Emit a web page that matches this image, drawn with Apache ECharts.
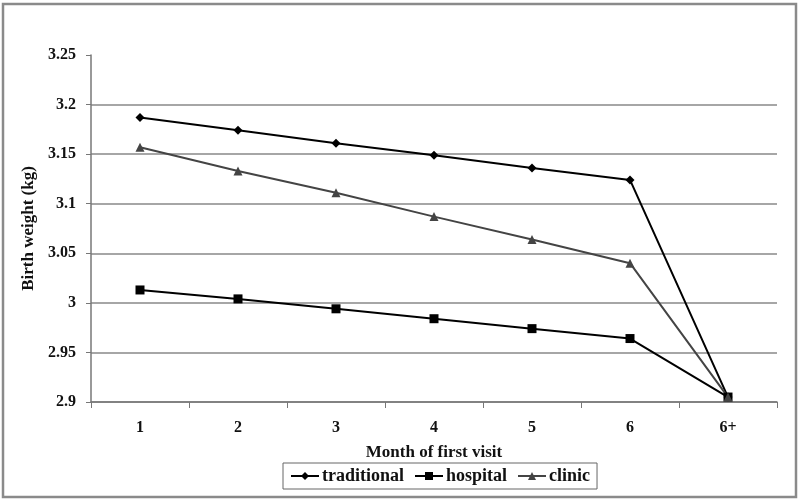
<!DOCTYPE html>
<html><head><meta charset="utf-8">
<script src="https://cdn.jsdelivr.net/npm/echarts@6/dist/echarts.min.js"></script>
<style>html,body{margin:0;padding:0;background:#fff}#c{width:800px;height:501px}</style>
</head><body><div id="c"></div>
<script>
const categories = ['1','2','3','4','5','6','6+'];
const traditional = [3.187, 3.174, 3.161, 3.149, 3.136, 3.124, 2.905];
const hospital = [3.013, 3.004, 2.994, 2.984, 2.974, 2.964, 2.905];
const clinic = [3.157, 3.133, 3.111, 3.087, 3.064, 3.040, 2.905];
const yTicks = [2.9, 2.95, 3, 3.05, 3.1, 3.15, 3.2, 3.25];

const font = 'Liberation Serif';
const chart = echarts.init(document.getElementById('c'), null, {renderer:'canvas'});
chart.setOption({
  animation: false,
  backgroundColor: '#fff',
  graphic: [{type:'rect', shape:{x:3,y:4,width:793,height:493}, style:{fill:'none', stroke:'#8a8a8a', lineWidth:2.5}, silent:true}],
  grid: {left: 91, right: 23, top: 55, bottom: 99, containLabel: false},
  legend: {
    top: 463, left: 283,
    data: ['traditional','hospital','clinic'],
    borderColor: '#666', borderWidth: 1, padding: [4,7,4,7],
    itemGap: 10, itemWidth: 28, itemHeight: 10,
    textStyle: {fontFamily: font, fontWeight: 'bold', fontSize: 18, color: '#111', padding:[0,0,0,-2]}
  },
  xAxis: {
    type: 'category', data: categories, boundaryGap: true,
    name: 'Month of first visit', nameLocation: 'middle', nameGap: 42,
    nameTextStyle: {fontFamily: font, fontWeight: 'bold', fontSize: 17, color: '#111'},
    axisLine: {lineStyle: {color: '#777', width: 1.5}},
    axisTick: {show: true, length: 6, alignWithLabel: false, lineStyle: {color: '#777'}},
    axisLabel: {fontFamily: font, fontWeight: 'bold', fontSize: 16, color: '#111', margin: 18},
    splitLine: {show: false}
  },
  yAxis: {
    type: 'value', min: 2.9, max: 3.25, interval: 0.05,
    name: 'Birth weight (kg)', nameLocation: 'middle', nameGap: 51, nameRotate: 90,
    nameTextStyle: {fontFamily: font, fontWeight: 'bold', fontSize: 17, color: '#111'},
    axisLine: {show: true, lineStyle: {color: '#777', width: 1.5}},
    axisTick: {show: true, length: 5, lineStyle: {color: '#777'}},
    axisLabel: {fontFamily: font, fontWeight: 'bold', fontSize: 16, color: '#111', margin: 15,
      formatter: v => { const t = yTicks.find(x => Math.abs(x - v) < 1e-6); return String(t !== undefined ? t : v); }},
    splitLine: {show: true, lineStyle: {color: ['#888','#888','#888','#888','#888','#888','#888','rgba(0,0,0,0)'], width: 1.5}}
  },
  series: [
    {name: 'traditional', type: 'line', data: traditional, symbol: 'diamond', symbolSize: 9,
     itemStyle: {color: '#000'}, lineStyle: {color: '#000', width: 2}},
    {name: 'hospital', type: 'line', data: hospital, symbol: 'rect', symbolSize: 9,
     itemStyle: {color: '#000'}, lineStyle: {color: '#000', width: 2}},
    {name: 'clinic', type: 'line', data: clinic, symbol: 'triangle', symbolSize: 9,
     itemStyle: {color: '#444'}, lineStyle: {color: '#444', width: 2}}
  ]
});
</script></body></html>
